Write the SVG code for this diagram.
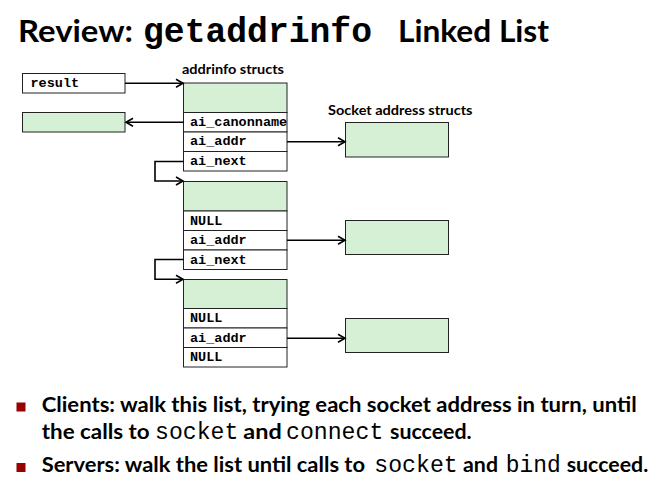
<svg xmlns="http://www.w3.org/2000/svg" width="666" height="485" viewBox="0 0 666 485">
<defs>
<style>
.t{font-family:Lato,"Open Sans","Liberation Sans",sans-serif;font-weight:bold;fill:#000}
.m{font-family:"Liberation Mono","Courier New",monospace;fill:#000}
.mb{font-family:"Liberation Mono","Courier New",monospace;font-weight:bold;font-size:13.5px;fill:#000}
.g{fill:#d5f0d5;stroke:#222;stroke-width:1}
.w{fill:#fff;stroke:#222;stroke-width:1}
.c{fill:none;stroke:#000;stroke-width:1.6}
.b{fill:#990000}
</style>
<marker id="ah" markerUnits="userSpaceOnUse" markerWidth="12" markerHeight="12" refX="9" refY="6" orient="auto">
<path d="M2,2 L9,6 L2,10" fill="none" stroke="#000" stroke-width="1.6"/>
</marker>
</defs>
<rect width="666" height="485" fill="#fff"/>

<g id="title">
<text class="t" x="18" y="41.5" font-size="30.5" textLength="115" lengthAdjust="spacingAndGlyphs">Review:</text>
<text class="m" x="143" y="41.5" font-size="34.7" font-weight="bold" textLength="229" lengthAdjust="spacingAndGlyphs">getaddrinfo</text>
<text class="t" x="398" y="41.5" font-size="30.5" textLength="151" lengthAdjust="spacingAndGlyphs">Linked List</text>
</g>

<g id="label-addrinfo">
<text class="t" x="182" y="74" font-size="13.5" textLength="102" lengthAdjust="spacingAndGlyphs">addrinfo structs</text>
</g>
<g id="label-socket">
<text class="t" x="328" y="114.5" font-size="13.5" textLength="144.5" lengthAdjust="spacingAndGlyphs">Socket address structs</text>
</g>

<g id="result">
<rect class="w" x="22.5" y="73.5" width="102.5" height="19.5"/>
<text class="mb" x="30.5" y="87">result</text>
</g>

<g id="canonname">
<rect class="g" x="22.5" y="112.5" width="102.5" height="19.5"/>
</g>

<g id="addrinfo1">
<rect class="g" x="183.5" y="83" width="103.5" height="29.5"/>
<rect class="w" x="183.5" y="112.5" width="103.5" height="19.5"/>
<rect class="w" x="183.5" y="132" width="103.5" height="19.5"/>
<rect class="w" x="183.5" y="151.5" width="103.5" height="19.5"/>
<text class="mb" x="190" y="126">ai_canonname</text>
<text class="mb" x="190" y="145.3">ai_addr</text>
<text class="mb" x="190" y="164.8">ai_next</text>
</g>

<g id="addrinfo2">
<rect class="g" x="183.5" y="181.5" width="103.5" height="29.5"/>
<rect class="w" x="183.5" y="211" width="103.5" height="19.5"/>
<rect class="w" x="183.5" y="230.5" width="103.5" height="19.5"/>
<rect class="w" x="183.5" y="250" width="103.5" height="19.5"/>
<text class="mb" x="190" y="224.5">NULL</text>
<text class="mb" x="190" y="244">ai_addr</text>
<text class="mb" x="190" y="263.5">ai_next</text>
</g>

<g id="addrinfo3">
<rect class="g" x="183.5" y="279.5" width="103.5" height="29"/>
<rect class="w" x="183.5" y="308.5" width="103.5" height="19.5"/>
<rect class="w" x="183.5" y="328" width="103.5" height="19.5"/>
<rect class="w" x="183.5" y="347.5" width="103.5" height="19.5"/>
<text class="mb" x="190" y="322">NULL</text>
<text class="mb" x="190" y="341.5">ai_addr</text>
<text class="mb" x="190" y="361">NULL</text>
</g>

<g id="sockaddr1"><rect class="g" x="345.5" y="122.5" width="103" height="34.5"/></g>
<g id="sockaddr2"><rect class="g" x="345.5" y="220.5" width="103" height="34"/></g>
<g id="sockaddr3"><rect class="g" x="345.5" y="318.5" width="103" height="34"/></g>

<g id="connectors">
<line class="c" x1="125" y1="83.3" x2="183" y2="83.3" marker-end="url(#ah)"/>
<line class="c" x1="183.5" y1="122.3" x2="126" y2="122.3" marker-end="url(#ah)"/>
<line class="c" x1="287" y1="141.7" x2="345" y2="141.7" marker-end="url(#ah)"/>
<line class="c" x1="287" y1="240.2" x2="345" y2="240.2" marker-end="url(#ah)"/>
<line class="c" x1="287" y1="338.3" x2="345" y2="338.3" marker-end="url(#ah)"/>
<polyline class="c" points="183.5,161.5 155,161.5 155,181 183,181" marker-end="url(#ah)"/>
<polyline class="c" points="183.5,259.5 155,259.5 155,279.3 183,279.3" marker-end="url(#ah)"/>
</g>

<g id="bullets">
<rect class="b" x="16.5" y="402.5" width="9" height="9"/>
<text class="t" x="41.7" y="411.5" font-size="20" textLength="595" lengthAdjust="spacingAndGlyphs">Clients: walk this list, trying each socket address in turn, until</text>
<text class="t" x="41.7" y="439" font-size="20" textLength="108" lengthAdjust="spacingAndGlyphs">the calls to</text>
<text class="m" x="155" y="439" font-size="23" textLength="83.3" lengthAdjust="spacingAndGlyphs">socket</text>
<text class="t" x="243.3" y="439" font-size="20" textLength="38.4" lengthAdjust="spacingAndGlyphs">and</text>
<text class="m" x="286" y="439" font-size="23" textLength="97.3" lengthAdjust="spacingAndGlyphs">connect</text>
<text class="t" x="390" y="439" font-size="20" textLength="81.7" lengthAdjust="spacingAndGlyphs">succeed.</text>
<rect class="b" x="16.5" y="463" width="9" height="9"/>
<text class="t" x="41.7" y="472" font-size="20" textLength="323.3" lengthAdjust="spacingAndGlyphs">Servers: walk the list until calls to</text>
<text class="m" x="374.3" y="472" font-size="23" textLength="83.4" lengthAdjust="spacingAndGlyphs">socket</text>
<text class="t" x="463" y="472" font-size="20" textLength="35" lengthAdjust="spacingAndGlyphs">and</text>
<text class="m" x="505.7" y="472" font-size="23" textLength="55" lengthAdjust="spacingAndGlyphs">bind</text>
<text class="t" x="566.7" y="472" font-size="20" textLength="81.6" lengthAdjust="spacingAndGlyphs">succeed.</text>
</g>
</svg>
